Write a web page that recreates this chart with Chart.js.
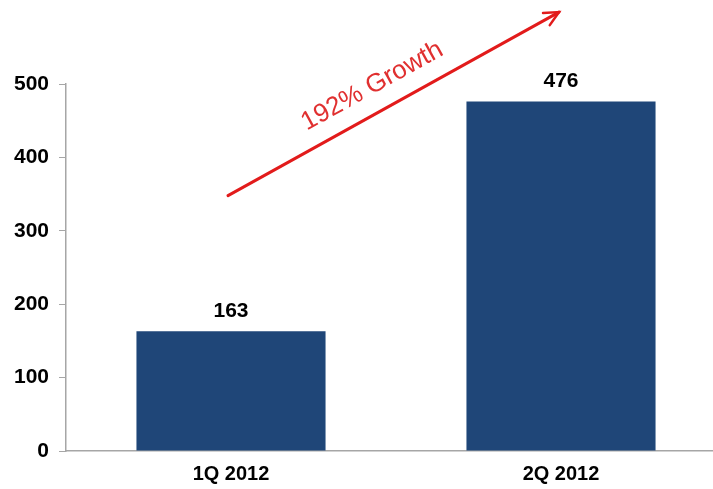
<!DOCTYPE html>
<html>
<head>
  <title>Growth</title>
  <script src="https://cdn.jsdelivr.net/npm/chart.js"></script>
  <style>
    html, body {
      margin: 0;
      padding: 0;
      background: #fff;
      overflow: hidden;
    }
    #wrap {
      width: 728px;
      height: 489px;
    }
  </style>
</head>
<body>
  <div id="wrap"><canvas id="growthChart"></canvas></div>

  <script>
    // chart data
    const categories = ["1Q 2012", "2Q 2012"];
    const values = [163, 476];
    const yTicks = [0, 100, 200, 300, 400, 500];
    const growthText = "192% Growth";
    const arrowFrom = 348;   // arrow start, in y units, over first category
    const arrowTo = 598;     // arrow end, over second category

    const font = "'Liberation Sans', Arial, sans-serif";

    // value labels over the bars
    const barLabels = {
      id: "barLabels",
      afterDatasetsDraw(chart) {
        const ctx = chart.ctx;
        const meta = chart.getDatasetMeta(0);
        ctx.save();
        ctx.font = "bold 21px " + font;
        ctx.fillStyle = "#000";
        ctx.textAlign = "center";
        ctx.textBaseline = "middle";
        meta.data.forEach((bar, i) => {
          ctx.fillText(values[i], bar.x, bar.y - 20);
        });
        ctx.restore();
      }
    };

    // red growth arrow with its text
    const growthArrow = {
      id: "growthArrow",
      afterDraw(chart) {
        const ctx = chart.ctx;
        const x = chart.scales.x, y = chart.scales.y;
        const x1 = x.getPixelForValue(0) - 3, y1 = y.getPixelForValue(arrowFrom);
        const x2 = x.getPixelForValue(1) - 2, y2 = y.getPixelForValue(arrowTo);
        const ang = Math.atan2(y2 - y1, x2 - x1);
        ctx.save();
        ctx.strokeStyle = "#e21b1b";
        ctx.lineWidth = 3;
        ctx.lineCap = "round";
        ctx.beginPath();
        ctx.moveTo(x1, y1);
        ctx.lineTo(x2, y2);
        ctx.stroke();
        ctx.lineWidth = 2.5;
        ctx.beginPath();
        ctx.moveTo(x2 - 16 * Math.cos(ang - 0.45), y2 - 16 * Math.sin(ang - 0.45));
        ctx.lineTo(x2, y2);
        ctx.lineTo(x2 - 16 * Math.cos(ang + 0.45), y2 - 16 * Math.sin(ang + 0.45));
        ctx.stroke();

        // text sits above the line
        const mx = (x1 + x2) / 2 - 16, my = (y1 + y2) / 2 - 8;
        ctx.translate(mx, my);
        ctx.rotate(ang);
        ctx.font = "26px " + font;
        ctx.fillStyle = "#e03030";
        ctx.textAlign = "center";
        ctx.textBaseline = "bottom";
        ctx.fillText(growthText, 0, 2);
        ctx.restore();
      }
    };

    new Chart(document.getElementById("growthChart"), {
      type: "bar",
      data: {
        labels: categories,
        datasets: [{
          data: values,
          backgroundColor: "#1f4678",
          barPercentage: 0.573,
          categoryPercentage: 1
        }]
      },
      options: {
        responsive: true,
        maintainAspectRatio: false,
        animation: false,
        layout: {
          padding: { top: 84, right: 2, bottom: 0, left: 0 }
        },
        plugins: {
          legend: { display: false },
          tooltip: { enabled: false }
        },
        scales: {
          x: {
            grid: { display: false },
            border: { display: true, color: "#a6a6a6", width: 1.5 },
            ticks: {
              color: "#000",
              font: { family: font, size: 20, weight: "bold" },
              padding: 3
            }
          },
          y: {
            min: 0,
            max: 500,
            afterBuildTicks(scale) {
              scale.ticks = yTicks.map(v => ({ value: v }));
            },
            afterFit(scale) {
              scale.width = 66;
            },
            grid: {
              drawOnChartArea: false,
              drawTicks: true,
              tickLength: 7,
              color: "#a6a6a6"
            },
            border: { display: true, color: "#a6a6a6", width: 1.5 },
            ticks: {
              color: "#000",
              font: { family: font, size: 21, weight: "bold" },
              padding: 10
            }
          }
        }
      },
      plugins: [barLabels, growthArrow]
    });
  </script>
</body>
</html>
